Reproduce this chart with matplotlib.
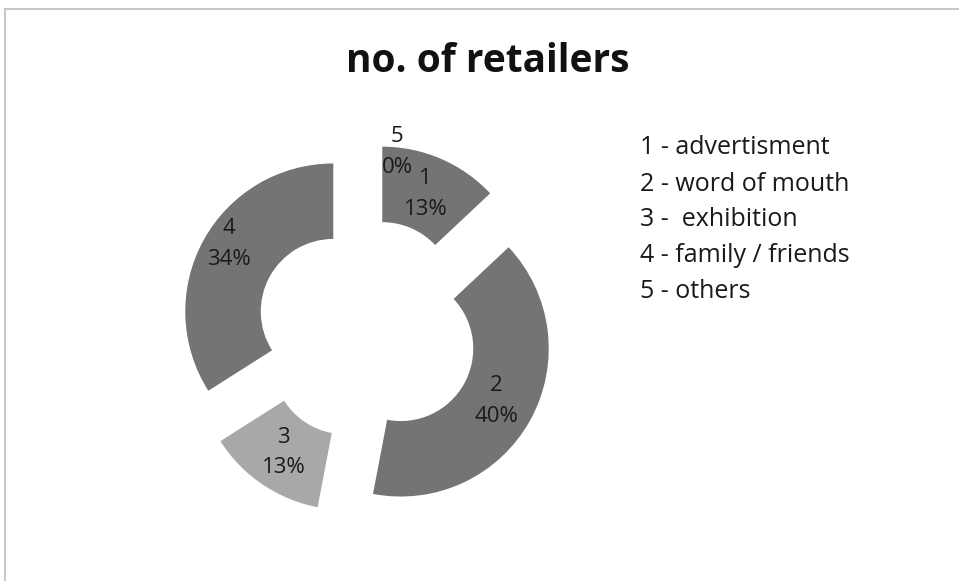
import matplotlib
matplotlib.use("Agg")
import matplotlib.pyplot as plt
from matplotlib.lines import Line2D

# data
codes = ["1", "2", "3", "4", "5"]
sources = ["advertisment", "word of mouth", " exhibition", "family / friends", "others"]
shares = [13, 40, 13, 34, 0]
colours = ["#747474", "#747474", "#a8a8a8", "#747474", "#747474"]

plt.rcParams['font.family'] = ['Open Sans', 'DejaVu Sans']

fig = plt.figure(figsize=(9.59, 5.81), dpi=100)

# chart frame (top and left edges only)
fig.add_artist(Line2D([5 / 959, 1], [1 - 9 / 581, 1 - 9 / 581], color="#c8c8c8", lw=1.5))
fig.add_artist(Line2D([5 / 959, 5 / 959], [0, 1 - 9 / 581], color="#c8c8c8", lw=1.5))

# donut axes, 148 px per unit radius, centred at (367, 330)
cx, cy, half = 367, 581 - 330, 222
ax = fig.add_axes([(cx - half) / 959, (cy - half) / 581, 2 * half / 959, 2 * half / 581])

wedges, texts, autotexts = ax.pie(
    shares, explode=[0.26] * len(shares), colors=colours, startangle=90,
    counterclock=False, radius=1, autopct="%d%%", pctdistance=0.74,
    wedgeprops=dict(width=0.51, linewidth=0),
    textprops=dict(fontsize=16, color="#1a1a1a", linespacing=1.6),
)
ax.set_xlim(-1.5, 1.5)
ax.set_ylim(-1.5, 1.5)
ax.set_aspect("equal")
ax.axis("off")

for code, share, t in zip(codes, shares, autotexts):
    t.set_text(f"{code}\n{share}%")

# label tweaks: slice 4 sits a bit further out, zero slice label above the ring
autotexts[3].set_position(((229 - 367) / 148, (330 - 244) / 148))
autotexts[4].set_position(((397 - 367) / 148, (330 - 152) / 148))

fig.text(488 / 959, 1 - 62 / 581, "no. of retailers", ha="center", va="center",
         fontsize=28, fontweight="bold", color="#111111")

for i, (code, src) in enumerate(zip(codes, sources)):
    fig.text(640 / 959, 1 - (148 + 36 * i) / 581, f"{code} - {src}", ha="left", va="center",
             fontsize=18, color="#1a1a1a")

fig.savefig("out.png", dpi=100, facecolor="white")
